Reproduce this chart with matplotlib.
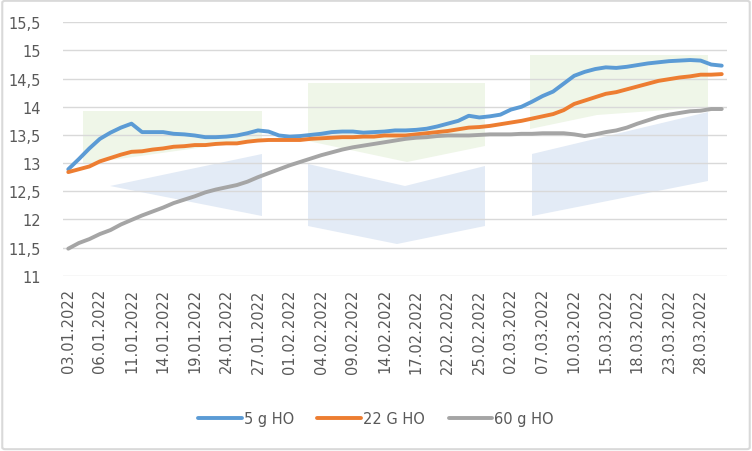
import matplotlib.pyplot as plt
from matplotlib.patches import Polygon, FancyBboxPatch
import pandas as pd

# Данные
dates = pd.bdate_range("2022-01-03", "2022-03-30").strftime("%d.%m.%Y").tolist()

g5 = [12.89, 13.07, 13.26, 13.43, 13.54, 13.63, 13.70, 13.55, 13.55, 13.55, 13.52, 13.51, 13.49, 13.46, 13.46, 13.47,
      13.49, 13.53, 13.58, 13.56, 13.49, 13.47, 13.48, 13.50, 13.52, 13.55, 13.56, 13.56, 13.54, 13.55, 13.56, 13.58,
      13.58, 13.59, 13.61, 13.65, 13.70, 13.75, 13.84, 13.81, 13.83, 13.86, 13.95, 14.00, 14.09, 14.19, 14.27, 14.41,
      14.55, 14.62, 14.67, 14.70, 14.69, 14.71, 14.74, 14.77, 14.79, 14.81, 14.82, 14.83, 14.82, 14.75, 14.73]

g22 = [12.84, 12.89, 12.94, 13.03, 13.09, 13.15, 13.20, 13.21, 13.24, 13.26, 13.29, 13.30, 13.32, 13.32, 13.34, 13.35,
       13.35, 13.38, 13.40, 13.41, 13.41, 13.41, 13.41, 13.43, 13.44, 13.45, 13.46, 13.46, 13.47, 13.47, 13.49, 13.49,
       13.49, 13.51, 13.53, 13.55, 13.57, 13.60, 13.63, 13.64, 13.66, 13.69, 13.72, 13.75, 13.79, 13.83, 13.87, 13.94,
       14.05, 14.11, 14.17, 14.23, 14.26, 14.31, 14.36, 14.41, 14.46, 14.49, 14.52, 14.54, 14.57, 14.57, 14.58]

g60 = [11.48, 11.58, 11.65, 11.74, 11.81, 11.91, 11.99, 12.07, 12.14, 12.21, 12.29, 12.35, 12.41, 12.48, 12.53, 12.57,
       12.61, 12.67, 12.75, 12.82, 12.89, 12.96, 13.02, 13.08, 13.14, 13.19, 13.24, 13.28, 13.31, 13.34, 13.37, 13.40,
       13.43, 13.45, 13.46, 13.48, 13.49, 13.49, 13.49, 13.50, 13.51, 13.51, 13.51, 13.52, 13.52, 13.53, 13.53, 13.53,
       13.51, 13.48, 13.51, 13.55, 13.58, 13.63, 13.70, 13.76, 13.82, 13.86, 13.89, 13.92, 13.93, 13.96, 13.96]

series = [("5 g HO", g5, "#5B9BD5"), ("22 G HO", g22, "#ED7D31"), ("60 g HO", g60, "#A5A5A5")]
yticks = [11 + 0.5 * k for k in range(10)]

W, H = 752, 452
fig = plt.figure(figsize=(W / 100, H / 100), dpi=100)

# водяной знак на фоне (в пикселях картинки)
def px(points):
    return [(x / W, 1 - y / H) for x, y in points]

green = "#EFF6E8"
blue = "#E3EBF6"
marks = [
    ([(83, 112), (262, 112), (262, 140), (83, 165)], green),
    ([(110, 187), (262, 155), (262, 217)], blue),
    ([(308, 84), (485, 84), (485, 147), (407, 163), (308, 142)], green),
    ([(308, 165), (405, 187), (485, 167), (485, 227), (397, 245), (308, 227)], blue),
    ([(530, 56), (708, 56), (708, 108), (597, 116), (530, 130)], green),
    ([(532, 155), (708, 113), (708, 182), (532, 217)], blue),
]
for pts, c in marks:
    fig.patches.append(Polygon(px(pts), closed=True, transform=fig.transFigure,
                               facecolor=c, edgecolor="none", zorder=-2))

# рамка
fig.patches.append(FancyBboxPatch((0.003, 0.004), 0.994, 0.992, boxstyle="round,pad=0,rounding_size=0.004",
                                  transform=fig.transFigure, fill=False, edgecolor="#D9D9D9", lw=1.5, zorder=-1))

ax = fig.add_axes([63 / W, 1 - 276.7 / H, (727 - 63) / W, (276.7 - 23.3) / H])
ax.set_facecolor("none")

x = list(range(len(dates)))
for name, vals, col in series:
    ax.plot(x, vals, color=col, lw=2.8, label=name, solid_capstyle="round", solid_joinstyle="round", zorder=3)

ax.set_xlim(-0.5, len(dates) - 0.5)
ax.set_ylim(11, 15.5)
ax.set_yticks(yticks)
ax.set_yticklabels([f"{v:g}".replace(".", ",") for v in yticks])
ax.set_xticks(x[::3])
ax.set_xticklabels(dates[::3], rotation=90)
ax.tick_params(axis="both", length=0, colors="#595959", labelsize=10.5)
ax.tick_params(axis="x", pad=9)
ax.tick_params(axis="y", pad=16)

ax.grid(axis="y", color="#D9D9D9", lw=1.0, zorder=1)
ax.set_axisbelow(True)
for s in ax.spines.values():
    s.set_visible(False)

leg = fig.legend(loc="center", bbox_to_anchor=(0.5, 1 - 420 / H), ncol=3, frameon=False,
                 handlelength=3.0, handletextpad=0.15, columnspacing=1.6, fontsize=10.5)
for t in leg.get_texts():
    t.set_color("#595959")

plt.savefig("out.png", dpi=100)
